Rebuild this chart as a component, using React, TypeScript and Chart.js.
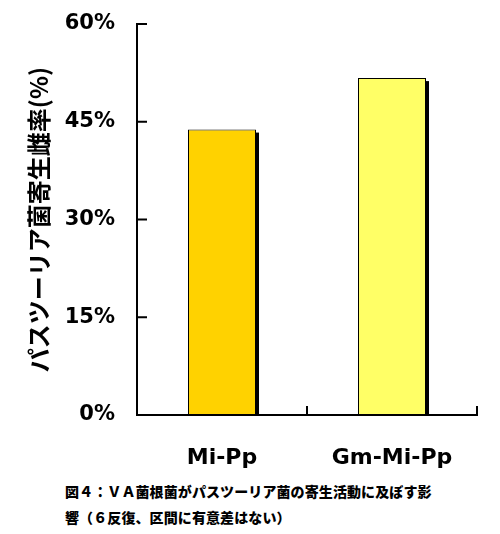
import { useEffect, useRef } from 'react';
import { Chart, registerables } from 'chart.js';

Chart.register(...registerables);

const categories = ['Mi-Pp', 'Gm-Mi-Pp'];
const parasitismRate = [43.8, 51.7];
const barColors = ['#FFD200', '#FFFF66'];
const yTickValues = [0, 15, 30, 45, 60];
const yTitle = 'パスツーリア菌寄生雌率(%)';
const captionLines = [
  '図４：ＶＡ菌根菌がパスツーリア菌の寄生活動に及ぼす影',
  '響（６反復、区間に有意差はない）',
];

// bar shadows and inward tick marks, like the original figure
const decorPlugin = {
  id: 'decor',
  beforeDatasetsDraw(chart: any) {
    const ctx = chart.ctx;
    const meta = chart.getDatasetMeta(0);
    ctx.save();
    ctx.fillStyle = '#000';
    meta.data.forEach((bar: any) => {
      const { x, y, base, width } = bar.getProps(['x', 'y', 'base', 'width'], true);
      ctx.fillRect(x - width / 2 + 3, y + 3, width, base - y - 3);
    });
    ctx.restore();
  },
  afterDraw(chart: any) {
    const ctx = chart.ctx;
    const xs = chart.scales.x;
    const ys = chart.scales.y;
    ctx.save();
    ctx.strokeStyle = '#000';
    ctx.lineWidth = 2;
    ctx.beginPath();
    yTickValues.forEach((v) => {
      if (v === 0) return;
      const py = ys.getPixelForValue(v);
      ctx.moveTo(xs.left, py);
      ctx.lineTo(xs.left + 10, py);
    });
    categories.forEach((_, i) => {
      const px = xs.getPixelForValue(i + 0.5);
      ctx.moveTo(px, ys.bottom);
      ctx.lineTo(px, ys.bottom - 9);
    });
    ctx.stroke();
    ctx.restore();
  },
};

export default function App() {
  const chartRef = useRef<HTMLCanvasElement>(null);
  const chartInstance = useRef<Chart | null>(null);

  useEffect(() => {
    document.body.style.margin = '0';
    if (!chartRef.current) return;
    if (chartInstance.current) {
      chartInstance.current.destroy();
    }
    const ctx = chartRef.current.getContext('2d');
    if (!ctx) return;

    chartInstance.current = new Chart(ctx, {
      type: 'bar',
      data: {
        labels: categories,
        datasets: [
          {
            data: parasitismRate,
            backgroundColor: barColors,
            borderColor: '#000',
            borderWidth: 1,
            borderSkipped: false,
            barPercentage: 0.4,
            categoryPercentage: 1,
          },
        ],
      },
      options: {
        responsive: false,
        animation: false,
        layout: { padding: { left: 0, right: 23, top: 24, bottom: 0 } },
        scales: {
          x: {
            grid: { display: false, drawTicks: false },
            border: { display: true, color: '#000', width: 2 },
            ticks: {
              color: '#000',
              padding: 30,
              font: { family: '"DejaVu Sans"', size: 22, weight: 'bold' },
            },
            afterFit: (scale: any) => {
              scale.height = 55;
              scale.paddingLeft = 0;
              scale.paddingRight = 0;
            },
          },
          y: {
            min: 0,
            max: 60,
            grid: { display: false, drawTicks: false },
            border: { display: true, color: '#000', width: 2 },
            ticks: {
              stepSize: 15,
              color: '#000',
              padding: 22,
              font: { family: '"DejaVu Sans"', size: 21, weight: 'bold' },
              callback: (v: any) => v + '%',
            },
            title: {
              display: true,
              text: yTitle,
              color: '#000',
              padding: { top: 24, bottom: 0 },
              font: { family: '"Noto Sans CJK JP"', size: 24, weight: 'bold' },
            },
            afterFit: (scale: any) => {
              scale.width = 137;
              scale.paddingTop = 0;
              scale.paddingBottom = 0;
            },
          },
        },
        plugins: {
          legend: { display: false },
          tooltip: { enabled: false },
        },
      },
      plugins: [decorPlugin],
    });

    return () => {
      if (chartInstance.current) {
        chartInstance.current.destroy();
        chartInstance.current = null;
      }
    };
  }, []);

  return (
    <div style={{ position: 'relative', width: 500, height: 534, background: '#fff' }}>
      <canvas ref={chartRef} width={500} height={470}></canvas>
      <div
        style={{
          position: 'absolute',
          left: 65,
          top: 478,
          fontFamily: '"Noto Sans CJK JP"',
          fontWeight: 900,
          fontSize: 14,
          lineHeight: '26px',
          letterSpacing: '0.1px',
          color: '#000',
          whiteSpace: 'nowrap',
        }}
      >
        {captionLines.map((line) => (
          <div key={line}>{line}</div>
        ))}
      </div>
    </div>
  );
}
